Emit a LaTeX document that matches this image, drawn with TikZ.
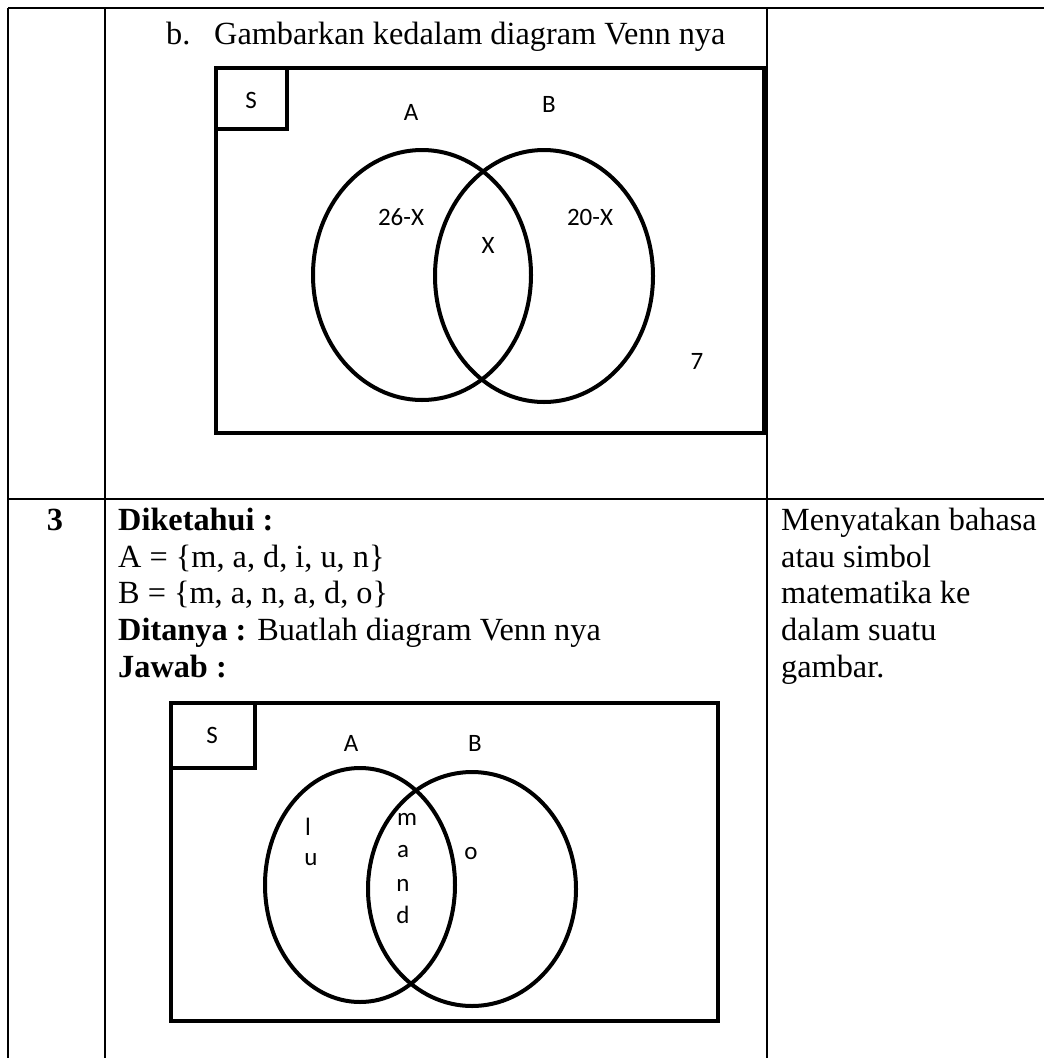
\documentclass[tikz,border=0pt]{standalone}
\usepackage{fontspec}
\setmainfont{Liberation Serif}
\newfontfamily\vennfont{Carlito}
\usetikzlibrary{shapes.geometric}

\begin{document}
\begin{tikzpicture}[x=1pt, y=-1pt,
    rule/.style={line width=2pt},
    frame/.style={line width=4.5pt},
    venn/.style={draw, ellipse, line width=4pt, inner sep=0pt},
    setlbl/.style={font=\vennfont\fontsize{25}{29}\selectfont, inner sep=0pt},
    txt/.style={font=\fontsize{32.3}{37}\selectfont, anchor=base west, inner sep=0pt}]
    \useasboundingbox (0,0) rectangle (1044,1058);

    % table rules
    \coordinate (topL) at (8,8);
    \coordinate (topR) at (1044,8);
    \coordinate (midL) at (8,499);
    \coordinate (midR) at (1044,499);
    \draw[rule] (topL) -- (topR);
    \draw[rule] (midL) -- (midR);
    \draw[rule] (topL) -- (8,1058);
    \draw[rule] (105,8) -- (105,1058);
    \draw[rule] (767,8) -- (767,1058);

    % part b: Venn diagram with x
    \node[txt] (itemb) at (166,44) {b.};
    \node[txt] (title) at (214,44) {Gambarkan kedalam diagram Venn nya};
    \begin{scope}
        \draw[frame] (216,68) rectangle (764,433);
        \draw[frame] (216,68) rectangle (287,129);
        \node[setlbl] (univ) at (251,100) {S};
        \node[setlbl] (lblA) at (411,112) {A};
        \node[setlbl] (lblB) at (549,104) {B};
        \node[venn, minimum width=218pt, minimum height=250pt] (setA) at (422,275) {};
        \node[venn, minimum width=218pt, minimum height=252pt] (setB) at (544,276) {};
        \node[setlbl] (onlyA) at (401,217) {26-X};
        \node[setlbl] (both) at (488,245) {X};
        \node[setlbl] (onlyB) at (590,217) {20-X};
        \node[setlbl] (rest) at (697,361) {7};
    \end{scope}

    % number 3: question text
    \node[txt, font=\bfseries\fontsize{32.3}{37}\selectfont, anchor=base] (num) at (55,530) {3};
    \node[txt] (known) at (118,530) {\textbf{Diketahui :}};
    \node[txt] (defA) at (118,567) {A = \{m, a, d, i, u, n\}};
    \node[txt] (defB) at (118,603) {B = \{m, a, n, a, d, o\}};
    \node[txt] (asked) at (118,640) {\textbf{Ditanya :} Buatlah diagram Venn nya};
    \node[txt] (answer) at (118,677) {\textbf{Jawab :}};

    % right column
    \node[txt] (aim1) at (781,530) {Menyatakan bahasa};
    \node[txt] (aim2) at (781,567) {atau simbol};
    \node[txt] (aim3) at (781,603) {matematika ke};
    \node[txt] (aim4) at (781,640) {dalam suatu};
    \node[txt] (aim5) at (781,677) {gambar.};

    % number 3: Venn diagram with letters
    \begin{scope}
        \draw[frame] (171,703) rectangle (718,1021);
        \draw[frame] (171,703) rectangle (255,768);
        \node[setlbl] (univ2) at (212,735) {S};
        \node[setlbl] (lblA2) at (351,743) {A};
        \node[setlbl] (lblB2) at (475,743) {B};
        \node[venn, minimum width=190pt, minimum height=234pt] (setA2) at (360,885) {};
        \node[venn, minimum width=208pt, minimum height=234pt] (setB2) at (472,889) {};
        \node[setlbl] (elI) at (308,827) {l};
        \node[setlbl] (elU) at (311,860) {u};
        \node[setlbl] (elM) at (407,819) {m};
        \node[setlbl] (elA) at (403,852) {a};
        \node[setlbl] (elN) at (403,885) {n};
        \node[setlbl] (elD) at (403,915) {d};
        \node[setlbl] (elO) at (471,854) {o};
    \end{scope}
\end{tikzpicture}
\end{document}
